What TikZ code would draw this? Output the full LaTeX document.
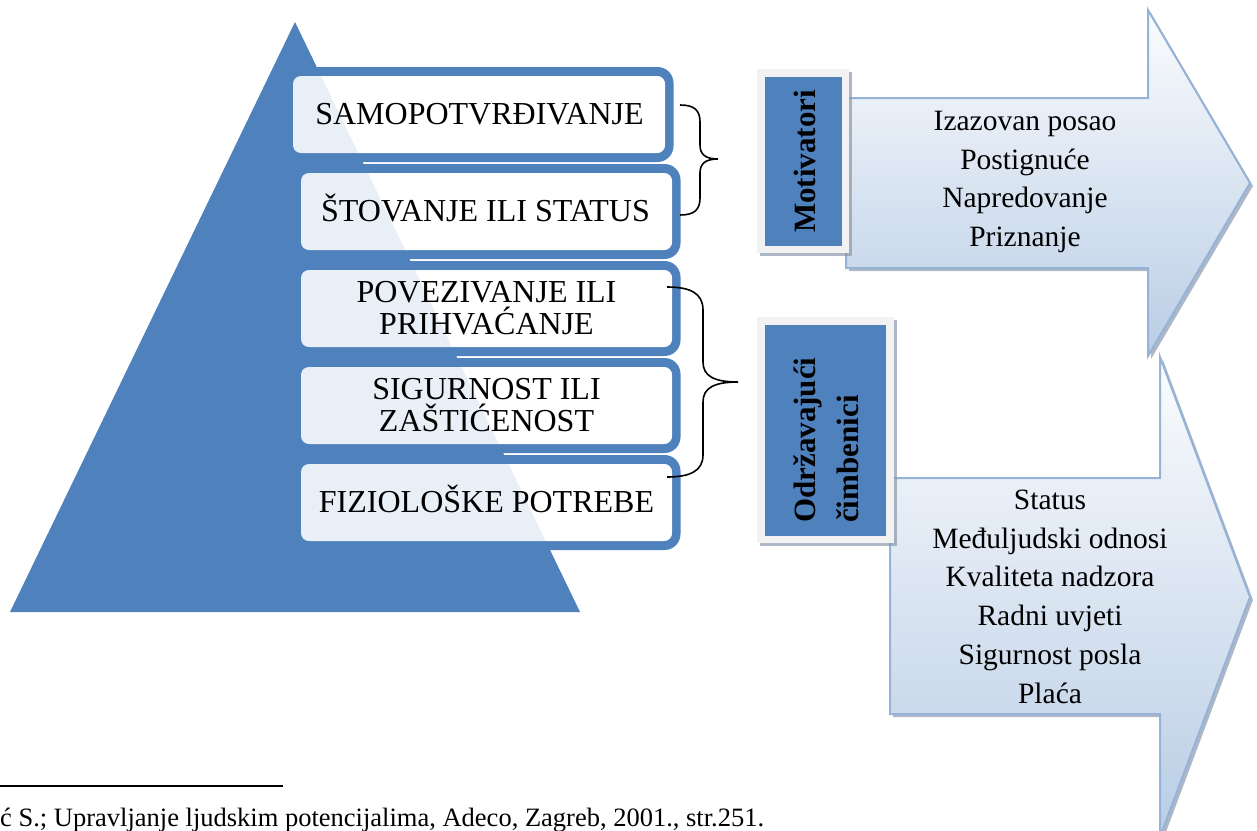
\documentclass[tikz,border=0pt]{standalone}
\usepackage{fontspec}
\setmainfont{Liberation Serif}
\definecolor{pyr}{HTML}{4F81BD}
\definecolor{boxgray}{HTML}{F2F2F2}
\definecolor{arrline}{HTML}{95B3D7}
\definecolor{arrbot}{HTML}{B9CDE5}
\definecolor{arrtop}{HTML}{FBFCFE}
\definecolor{shadowc}{HTML}{8A98AC}
\begin{document}
\begin{tikzpicture}[x=1pt,y=-1pt,
  lvltext/.style={font=\fontsize{32}{32}\selectfont, inner sep=0pt, anchor=base, align=center},
  lvlbox/.style={rectangle, rounded corners=8pt, fill=white, fill opacity=0.88, draw=none, inner sep=0pt},
  lvlframe/.style={fill=pyr, even odd rule},
  arrshape/.style={top color=arrtop, bottom color=arrbot, draw=arrline, line width=2pt},
  arrshadow/.style={fill=shadowc, fill opacity=0.7},
  graybox/.style={rectangle, fill=boxgray, draw=none, inner sep=0pt},
  bluebox/.style={rectangle, fill=pyr, draw=none, inner sep=0pt},
  sidetext/.style={font=\fontsize{31}{43}\selectfont\bfseries, inner sep=0pt, rotate=90, align=left},
  arrtext/.style={font=\fontsize{29.5}{38.7}\selectfont, inner sep=0pt, anchor=base, align=center},
  bracestyle/.style={draw=black, line width=1.6pt}
]
\useasboundingbox (0,0) rectangle (1257,830);

% pyramid
\fill[pyr] (295,22) -- (580,612) -- (10,612) -- cycle;

% frames of the levels
\fill[lvlframe] [rounded corners=16pt] (284.5,67) rectangle (673.5,162) [rounded corners=8pt] (293,76) rectangle (665,153);
\fill[lvlframe] [rounded corners=16pt] (292.5,164) rectangle (680.5,259) [rounded corners=8pt] (301,173) rectangle (672,250);
\fill[lvlframe] [rounded corners=16pt] (292.5,261) rectangle (680.5,356) [rounded corners=8pt] (301,270) rectangle (672,347);
\fill[lvlframe] [rounded corners=16pt] (292.5,358) rectangle (680.5,453) [rounded corners=8pt] (301,367) rectangle (672,444);
\fill[lvlframe] [rounded corners=16pt] (292.5,455) rectangle (680.5,550) [rounded corners=8pt] (301,464) rectangle (672,541);

% inner boxes
\node[lvlbox, minimum width=372pt, minimum height=77pt] (b1) at (479,114.5) {};
\node[lvlbox, minimum width=371pt, minimum height=77pt] (b2) at (486.5,211.5) {};
\node[lvlbox, minimum width=371pt, minimum height=77pt] (b3) at (486.5,308.5) {};
\node[lvlbox, minimum width=371pt, minimum height=77pt] (b4) at (486.5,405.5) {};
\node[lvlbox, minimum width=371pt, minimum height=77pt] (b5) at (486.5,502.5) {};

\node[lvltext] (t1) at (479.5,124.5) {SAMOPOTVRĐIVANJE};
\node[lvltext] (t2) at (485.5,221.5) {ŠTOVANJE ILI STATUS};
\node[lvltext] (t3) at (486.5,334.5) {POVEZIVANJE ILI\\PRIHVAĆANJE};
\node[lvltext] (t4) at (486.5,431.5) {SIGURNOST ILI\\ZAŠTIĆENOST};
\node[lvltext] (t5) at (486.5,512.5) {FIZIOLOŠKE POTREBE};

% braces
\coordinate (br1a) at (680,105);
\coordinate (br1b) at (680,215);
\coordinate (br1t) at (718,159);
\draw[bracestyle] (br1a) .. controls (694,105) and (700,110) .. (700,122) -- (700,145)
  .. controls (700,154) and (705,159) .. (br1t)
  .. controls (705,159) and (700,164) .. (700,173) -- (700,198)
  .. controls (700,210) and (694,215) .. (br1b);
\coordinate (br2a) at (667,287);
\coordinate (br2b) at (667,477);
\coordinate (br2t) at (738,382);
\draw[bracestyle] (br2a) .. controls (690,287) and (703,293) .. (703,310) -- (703,362)
  .. controls (703,376) and (714,382) .. (br2t)
  .. controls (714,382) and (703,388) .. (703,402) -- (703,455)
  .. controls (703,471) and (690,477) .. (br2b);

% arrows
\begin{scope}[shift={(3,3)}]
\fill[arrshadow] (846,98) -- (1148,98) -- (1148,10) -- (1250,183) -- (1148,356) -- (1148,268) -- (846,268) -- cycle;
\fill[arrshadow] (890,478) -- (1160,478) -- (1160,357) -- (1250,597) -- (1160,837) -- (1160,714) -- (890,714) -- cycle;
\end{scope}
\path[arrshape] (846,98) -- (1148,98) -- (1148,10) -- (1250,183) -- (1148,356) -- (1148,268) -- (846,268) -- cycle;
\path[arrshape] (890,478) -- (1160,478) -- (1160,357) -- (1250,597) -- (1160,837) -- (1160,714) -- (890,714) -- cycle;

\node[arrtext] (a1) at (1025,246.5) {Izazovan posao\\Postignuće\\Napredovanje\\Priznanje};
\node[arrtext] (a2) at (1050,703) {Status\\Međuljudski odnosi\\Kvaliteta nadzora\\Radni uvjeti\\Sigurnost posla\\Plaća};

% side labels
\fill[shadowc, fill opacity=0.7] (760,72) rectangle (852,256);
\node[graybox, minimum width=92pt, minimum height=184pt] (g1) at (803,161) {};
\node[bluebox, minimum width=77pt, minimum height=169pt] (m1) at (803.5,161.5) {};
\node[sidetext, anchor=base] (m1t) at (815,161.5) {Motivatori};

\fill[shadowc, fill opacity=0.7] (760,320) rectangle (897,546);
\node[graybox, minimum width=137pt, minimum height=226pt] (g2) at (825.5,430) {};
\node[bluebox, minimum width=121pt, minimum height=211pt] (m2) at (825.5,430.5) {};
\node[sidetext, anchor=base west] (m2t) at (858,523) {Održavajući\\čimbenici};

% footnote
\coordinate (fl1) at (0,786);
\coordinate (fl2) at (283,786);
\draw[line width=2pt] (fl1) -- (fl2);
\node[anchor=base west, inner sep=0pt, font=\fontsize{26.5}{30}\selectfont] (fn) at (0,826) {ć S.; Upravljanje ljudskim potencijalima, Adeco, Zagreb, 2001., str.251.};
\end{tikzpicture}
\end{document}
